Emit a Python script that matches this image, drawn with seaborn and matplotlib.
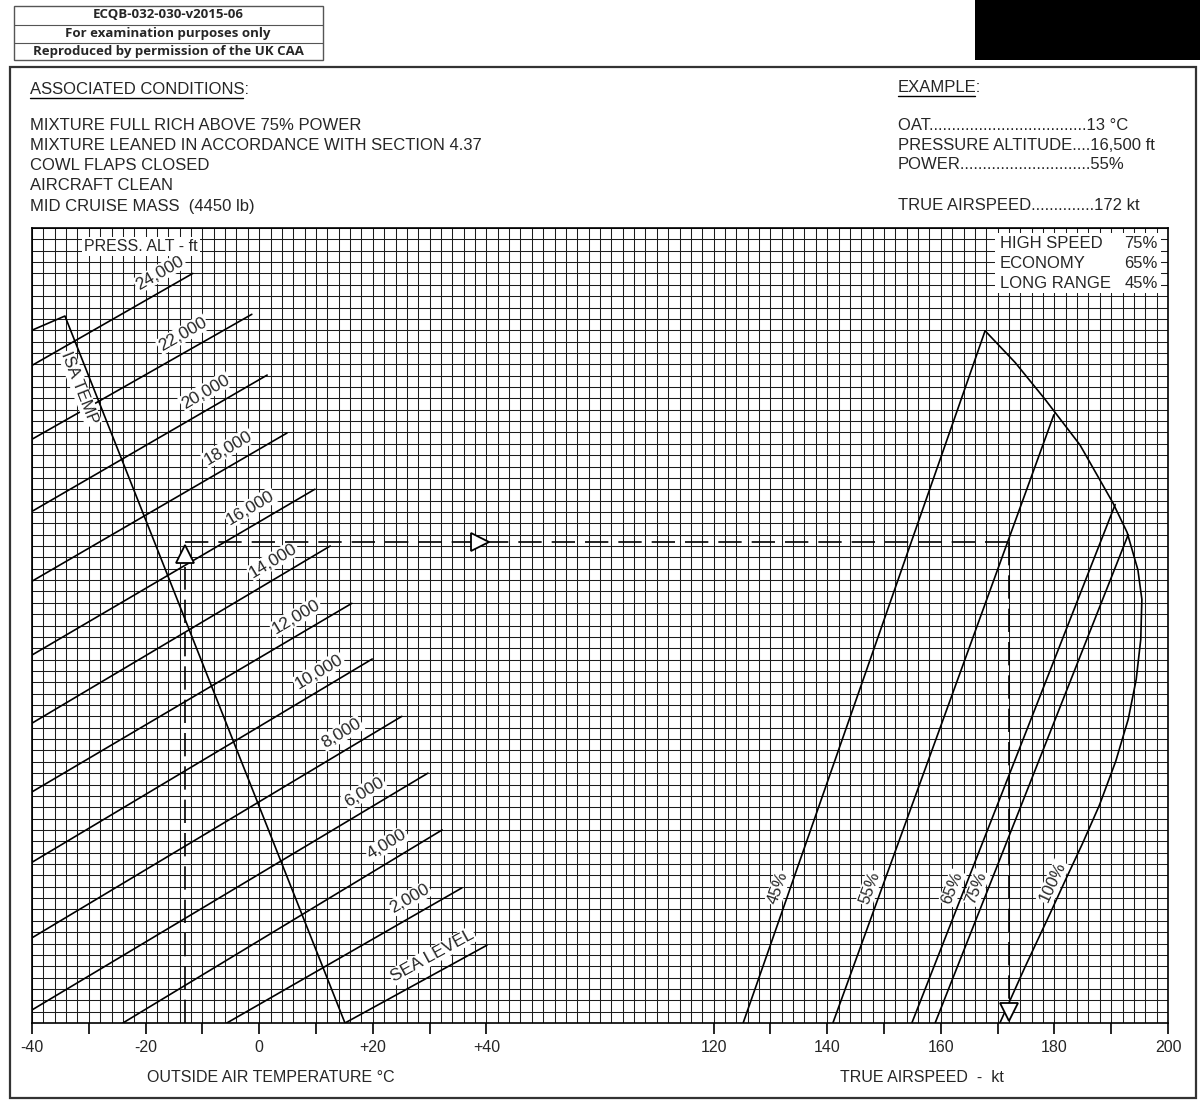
import numpy as np
import pandas as pd
import matplotlib
matplotlib.use("Agg")
import matplotlib.pyplot as plt
import seaborn as sns
from matplotlib.patches import Rectangle
from matplotlib.lines import Line2D

# ------------------------
# data
# ------------------------
# pressure altitude lines: OAT (degC) / chart height at both ends
alt_names = ["24,000", "22,000", "20,000", "18,000", "16,000", "14,000", "12,000",
             "10,000", "8,000", "6,000", "4,000", "2,000", "SEA LEVEL"]
alt_t0 = [-40, -40, -40, -40, -40, -40, -40, -40, -40, -40, -24.0, -5.7, 15.1]
alt_y0 = [115.8, 102.8, 90.1, 77.8, 64.8, 52.8, 40.7, 28.3, 15.0, 2.3, 0, 0, 0]
alt_t1 = [-11.7, -1.3, 1.4, 4.9, 9.8, 12.5, 16.3, 19.9, 25.1, 29.7, 32.2, 35.7, 40.1]
alt_y1 = [132.0, 124.8, 114.1, 103.9, 94.0, 84.0, 73.9, 64.1, 54.0, 44.0, 34.0, 23.8, 13.7]

# ISA temperature line (with the cap at the top left)
isa_t = [-40, -34.2, 15.1]
isa_y = [122.0, 124.5, 0]

# power lines: TAS (kt) at the bottom and at the envelope
power_names = ["45%", "55%", "65%", "75%"]
power_tas0 = [125.2, 141.0, 154.9, 159.0]
power_tas1 = [167.8, 179.9, 190.7, 193.0]
power_y1 = [121.9, 107.1, 91.3, 86.0]

# envelope curve, lower part is the 100% line
env_tas = [167.8, 173.1, 178.3, 184.5, 190.3, 192.8, 194.7, 195.4, 195.2, 194.4,
           193.0, 190.8, 187.9, 184.9, 182.0, 179.2, 174.8, 170.4]
env_y = [121.9, 116.3, 109.9, 101.8, 91.6, 86.4, 79.8, 74.6, 67.5, 60.5,
         53.5, 46.1, 38.3, 31.5, 25.3, 19.2, 9.8, 0]

# worked example
ex_oat = -13
ex_level = 84.7
ex_tas = 172

temp_ticks = [-40, -20, 0, 20, 40]
temp_labels = ["-40", "-20", "0", "+20", "+40"]
tas_ticks = [120, 140, 160, 180, 200]
TAS_SHIFT = 40  # TAS scale drawn at x = TAS - 40

W, H = 1200, 1104

sns.set_theme(style="white")
plt.rcParams['font.family'] = ['Liberation Sans', 'DejaVu Sans']

fig = plt.figure(figsize=(W / 100, H / 100), dpi=100)
ax = fig.add_axes([32 / W, 1 - 1023 / H, 1136 / W, 795 / H])
ax.set_xlim(-40, 160)
ax.set_ylim(0, 140)

# graph paper
ax.vlines(np.arange(-40, 161, 2), 0, 140, color="#1c1c1c", lw=0.75, zorder=0)
ax.hlines(np.arange(0, 141, 2), -40, 160, color="#1c1c1c", lw=0.75, zorder=0)

# altitude lines
rows = []
for n, a, b, c, d in zip(alt_names, alt_t0, alt_y0, alt_t1, alt_y1):
    rows.append({"name": n, "x": a, "y": b})
    rows.append({"name": n, "x": c, "y": d})
alt_df = pd.DataFrame(rows)
sns.lineplot(data=alt_df, x="x", y="y", units="name", estimator=None, sort=False,
             color="black", lw=1.2, ax=ax, legend=False, zorder=2)

isa_df = pd.DataFrame({"x": isa_t, "y": isa_y})
sns.lineplot(data=isa_df, x="x", y="y", estimator=None, sort=False,
             color="black", lw=1.2, ax=ax, zorder=2)

# power lines and envelope
prow = []
for n, a, b, c in zip(power_names, power_tas0, power_tas1, power_y1):
    prow.append({"name": n, "x": a - TAS_SHIFT, "y": 0})
    prow.append({"name": n, "x": b - TAS_SHIFT, "y": c})
pw_df = pd.DataFrame(prow)
sns.lineplot(data=pw_df, x="x", y="y", units="name", estimator=None, sort=False,
             color="black", lw=1.2, ax=ax, legend=False, zorder=2)
env_df = pd.DataFrame({"x": np.array(env_tas) - TAS_SHIFT, "y": env_y})
sns.lineplot(data=env_df, x="x", y="y", estimator=None, sort=False,
             color="black", lw=1.2, ax=ax, zorder=2)

# altitude labels, sitting just above their lines
white = dict(facecolor="white", edgecolor="none", pad=0.8)
for i, (n, a, b, c, d) in enumerate(zip(alt_names, alt_t0, alt_y0, alt_t1, alt_y1)):
    slope = (d - b) / (c - a)
    lx = -17.5 + 4 * i
    ly = b + (lx - a) * slope + 3.4
    ax.text(lx, ly, n, rotation=np.degrees(np.arctan(slope)), rotation_mode="anchor",
            ha="center", va="center", fontsize=12.5, bbox=white, zorder=3)

isa_slope = (isa_y[2] - isa_y[1]) / (isa_t[2] - isa_t[1])
ax.text(-31.6, 111.8, "ISA TEMP", rotation=np.degrees(np.arctan(isa_slope)),
        rotation_mode="anchor", ha="center", va="center", fontsize=12, bbox=white, zorder=3)
ax.text(-30.8, 136.8, "PRESS. ALT - ft", ha="left", va="center", fontsize=11.5,
        bbox=dict(facecolor="white", edgecolor="none", pad=1.5), zorder=3)

# power labels
for n, a, b, c in zip(power_names, power_tas0, power_tas1, power_y1):
    ly = 23.8
    lx = a + ly * (b - a) / c - 2.2 - TAS_SHIFT
    ax.text(lx, ly, n, rotation=np.degrees(np.arctan2(c, b - a)), rotation_mode="anchor",
            ha="center", va="center", fontsize=12, bbox=white, zorder=3)
x100 = np.interp(24.8, env_y[::-1], env_tas[::-1])
ax.text(x100 - 2.0 - TAS_SHIFT, 24.8, "100%", rotation=65, rotation_mode="anchor",
        ha="center", va="center", fontsize=12, bbox=white, zorder=3)

# legend box top right
ax.add_patch(Rectangle((129.6, 128.6), 29.2, 10.6, facecolor="white", edgecolor="none", zorder=3))
for yy, left, right in [(137.3, "HIGH SPEED", "75%"), (133.8, "ECONOMY", "65%"),
                        (130.3, "LONG RANGE", "45%")]:
    ax.text(130.4, yy, left, ha="left", va="center", fontsize=12, zorder=4)
    ax.text(158.2, yy, right, ha="right", va="center", fontsize=12, zorder=4)

# worked example
dash = dict(color="black", lw=1.2, dashes=(14, 6), zorder=4)
ax.plot([ex_oat, ex_oat], [0, 80.3], **dash)
ax.plot([ex_oat, ex_tas - TAS_SHIFT], [ex_level, ex_level], **dash)
ax.plot([ex_tas - TAS_SHIFT, ex_tas - TAS_SHIFT], [ex_level, 3.8], **dash)
tri = dict(ms=13, mfc="white", mec="black", mew=1.3, ls="none", zorder=5)
ax.plot([ex_oat], [82.6], marker="^", **tri)
ax.plot([38.9], [ex_level], marker=">", **tri)
ax.plot([ex_tas - TAS_SHIFT], [2.0], marker="v", **tri)

# axis ticks
ticks = list(range(-40, 41, 10)) + list(range(80, 161, 10))
labels = {t: l for t, l in zip(temp_ticks, temp_labels)}
labels.update({t - TAS_SHIFT: str(t) for t in tas_ticks})
ax.set_xticks(ticks)
ax.set_xticklabels([labels.get(t, "") for t in ticks])
ax.set_yticks([])
ax.tick_params(axis="x", length=8, width=1.2, color="black", direction="out",
               pad=4, labelsize=11.5, bottom=True)
ax.set_xlabel("")
ax.set_ylabel("")
for s in ax.spines.values():
    s.set_color("black")
    s.set_linewidth(1.2)

fig.text(271 / W, 1 - 1077 / H, "OUTSIDE AIR TEMPERATURE °C", ha="center", va="center", fontsize=11.5)
fig.text(922 / W, 1 - 1077 / H, "TRUE AIRSPEED  -  kt", ha="center", va="center", fontsize=11.5)

# page furniture
fig.add_artist(Rectangle((10 / W, 1 - 1098 / H), 1186 / W, 1031 / H, fill=False,
                         edgecolor="#333333", lw=1.6, transform=fig.transFigure))
fig.add_artist(Rectangle((975 / W, 1 - 60 / H), 225 / W, 60 / H, facecolor="black",
                         edgecolor="none", transform=fig.transFigure))
fig.add_artist(Rectangle((14 / W, 1 - 60 / H), 309 / W, 54 / H, fill=False,
                         edgecolor="#555555", lw=1.0, transform=fig.transFigure))
for yy in [25, 43]:
    fig.add_artist(Line2D([14 / W, 323 / W], [1 - yy / H, 1 - yy / H], color="#555555",
                          lw=0.8, transform=fig.transFigure))
for yy, s in [(15, "ECQB-032-030-v2015-06"), (33, "For examination purposes only"),
              (51, "Reproduced by permission of the UK CAA")]:
    fig.text(168 / W, 1 - yy / H, s, ha="center", va="center", fontsize=9.5,
             fontweight="bold", family=["Open Sans", "DejaVu Sans"])

head1 = fig.text(30 / W, 1 - 90 / H, "ASSOCIATED CONDITIONS:", ha="left", va="center", fontsize=12)
cond = ["MIXTURE FULL RICH ABOVE 75% POWER",
        "MIXTURE LEANED IN ACCORDANCE WITH SECTION 4.37",
        "COWL FLAPS CLOSED", "AIRCRAFT CLEAN", "MID CRUISE MASS  (4450 lb)"]
for k, s in enumerate(cond):
    fig.text(30 / W, 1 - (126 + 20 * k) / H, s, ha="left", va="center", fontsize=12)

head2 = fig.text(898 / W, 1 - 88 / H, "EXAMPLE:", ha="left", va="center", fontsize=12)
expl = [(126, "OAT" + "." * 35 + "13 °C"), (145, "PRESSURE ALTITUDE....16,500 ft"),
        (165, "POWER" + "." * 29 + "55%"), (206, "TRUE AIRSPEED" + "." * 14 + "172 kt")]
for yy, s in expl:
    fig.text(898 / W, 1 - yy / H, s, ha="left", va="center", fontsize=12)

# underline the two headings
fig.canvas.draw()
r = fig.canvas.get_renderer()
for t in [head1, head2]:
    bb = t.get_window_extent(r).transformed(fig.transFigure.inverted())
    fig.add_artist(Line2D([bb.x0, bb.x1 - 6 / W], [bb.y0 - 1 / H, bb.y0 - 1 / H], color="black",
                          lw=1.0, transform=fig.transFigure))

fig.savefig("out.png", dpi=100, facecolor="white")
